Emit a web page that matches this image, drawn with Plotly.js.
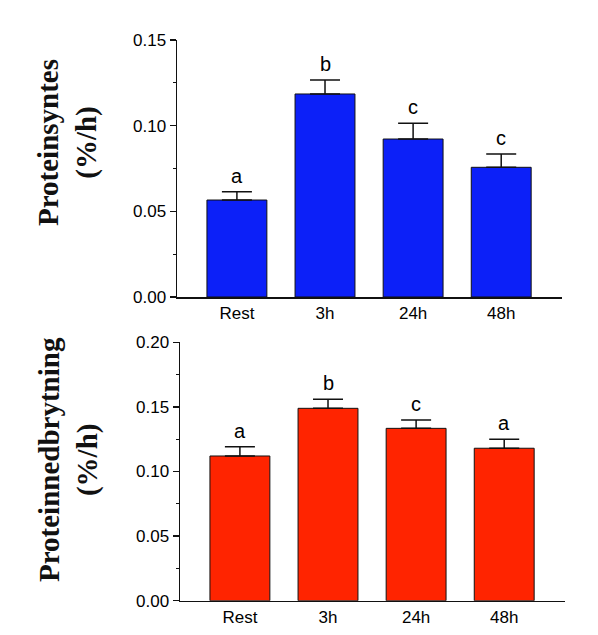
<!DOCTYPE html>
<html>
<head>
<meta charset="utf-8">
<script src="https://cdn.plot.ly/plotly-3.0.1.min.js"></script>
<style>html,body{margin:0;padding:0;background:#fff;}</style>
</head>
<body>
<div id="chart" style="width:598px;height:635px;"></div>
<script>
// Data
const categories = ["Rest", "3h", "24h", "48h"];
const synthesisMean = [0.0566, 0.1185, 0.0922, 0.0757];
const synthesisErr = [0.0049, 0.0081, 0.0092, 0.0078];
const synthesisLetters = ["a", "b", "c", "c"];
const breakdownMean = [0.112, 0.1489, 0.1334, 0.118];
const breakdownErr = [0.0072, 0.0070, 0.0065, 0.0069];
const breakdownLetters = ["a", "b", "c", "a"];
const synthesisTicks = [0, 0.05, 0.10, 0.15];
const synthesisTickText = ["0.00", "0.05", "0.10", "0.15"];
const breakdownTicks = [0, 0.05, 0.10, 0.15, 0.20];
const breakdownTickText = ["0.00", "0.05", "0.10", "0.15", "0.20"];

const tickFont = {family: "Liberation Sans, Arial, sans-serif", size: 17, color: "#000"};
const letterFont = {family: "Liberation Sans, Arial, sans-serif", size: 20, color: "#000"};
const titleFont = {family: "Liberation Serif, Times New Roman, serif", size: 29, color: "#111", weight: "bold"};

function barTrace(y, err, color, xa, ya) {
  return {
    type: "bar", x: categories, y: y, xaxis: xa, yaxis: ya,
    width: 0.68,
    marker: {color: color, line: {color: "#111", width: 1}},
    error_y: {type: "data", symmetric: false, array: err, arrayminus: err.map(() => 0),
              color: "#111", thickness: 1.5, width: 15},
    hoverinfo: "skip", showlegend: false
  };
}

const data = [
  barTrace(synthesisMean, synthesisErr, "rgb(12,32,248)", "x", "y"),
  barTrace(breakdownMean, breakdownErr, "rgb(255,36,0)", "x2", "y2")
];

const annotations = [];
categories.forEach((c, i) => {
  annotations.push({xref: "x", yref: "y", x: c, y: synthesisMean[i] + synthesisErr[i],
    text: synthesisLetters[i], showarrow: false, yanchor: "bottom", yshift: 3, font: letterFont});
  annotations.push({xref: "x2", yref: "y2", x: c, y: breakdownMean[i] + breakdownErr[i],
    text: breakdownLetters[i], showarrow: false, yanchor: "bottom", yshift: 3, font: letterFont});
});
annotations.push({xref: "paper", yref: "paper", x: 68/598, y: 1 - 143/635,
  text: "<b>Proteinsyntes</b><br><b>(%/h)</b>", textangle: -90, showarrow: false,
  xanchor: "center", yanchor: "middle", font: titleFont});
annotations.push({xref: "paper", yref: "paper", x: 68/598, y: 1 - 460/635,
  text: "<b>Proteinnedbrytning</b><br><b>(%/h)</b>", textangle: -90, showarrow: false,
  xanchor: "center", yanchor: "middle", font: titleFont});

const yCommon = {
  showline: true, linecolor: "#111", linewidth: 1.5, ticks: "outside", ticklen: 6, tickwidth: 1.5,
  tickcolor: "#111", showgrid: false, zeroline: false, tickfont: tickFont, fixedrange: true,
  minor: {dtick: 0.025, ticks: "outside", ticklen: 3, tickwidth: 1, tickcolor: "#111", showgrid: false}
};
const xCommon = {
  showline: true, linecolor: "#111", linewidth: 1.5, ticks: "", showgrid: false, zeroline: false,
  tickfont: tickFont, range: [-0.68, 3.69], fixedrange: true
};

const layout = {
  width: 598, height: 635,
  margin: {l: 0, r: 0, t: 0, b: 0},
  paper_bgcolor: "#fff", plot_bgcolor: "#fff",
  bargap: 0.32,
  xaxis: Object.assign({}, xCommon, {domain: [177/598, 562/598], anchor: "y"}),
  yaxis: Object.assign({}, yCommon, {domain: [1 - 297/635, 1 - 40/635], range: [0, 0.15],
    tickvals: synthesisTicks, ticktext: synthesisTickText, anchor: "x"}),
  xaxis2: Object.assign({}, xCommon, {domain: [180/598, 565/598], anchor: "y2"}),
  yaxis2: Object.assign({}, yCommon, {domain: [1 - 600.7/635, 1 - 342.3/635], range: [0, 0.20],
    tickvals: breakdownTicks, ticktext: breakdownTickText, anchor: "x2"}),
  annotations: annotations
};

Plotly.newPlot("chart", data, layout, {displayModeBar: false, staticPlot: true});
</script>
</body>
</html>
